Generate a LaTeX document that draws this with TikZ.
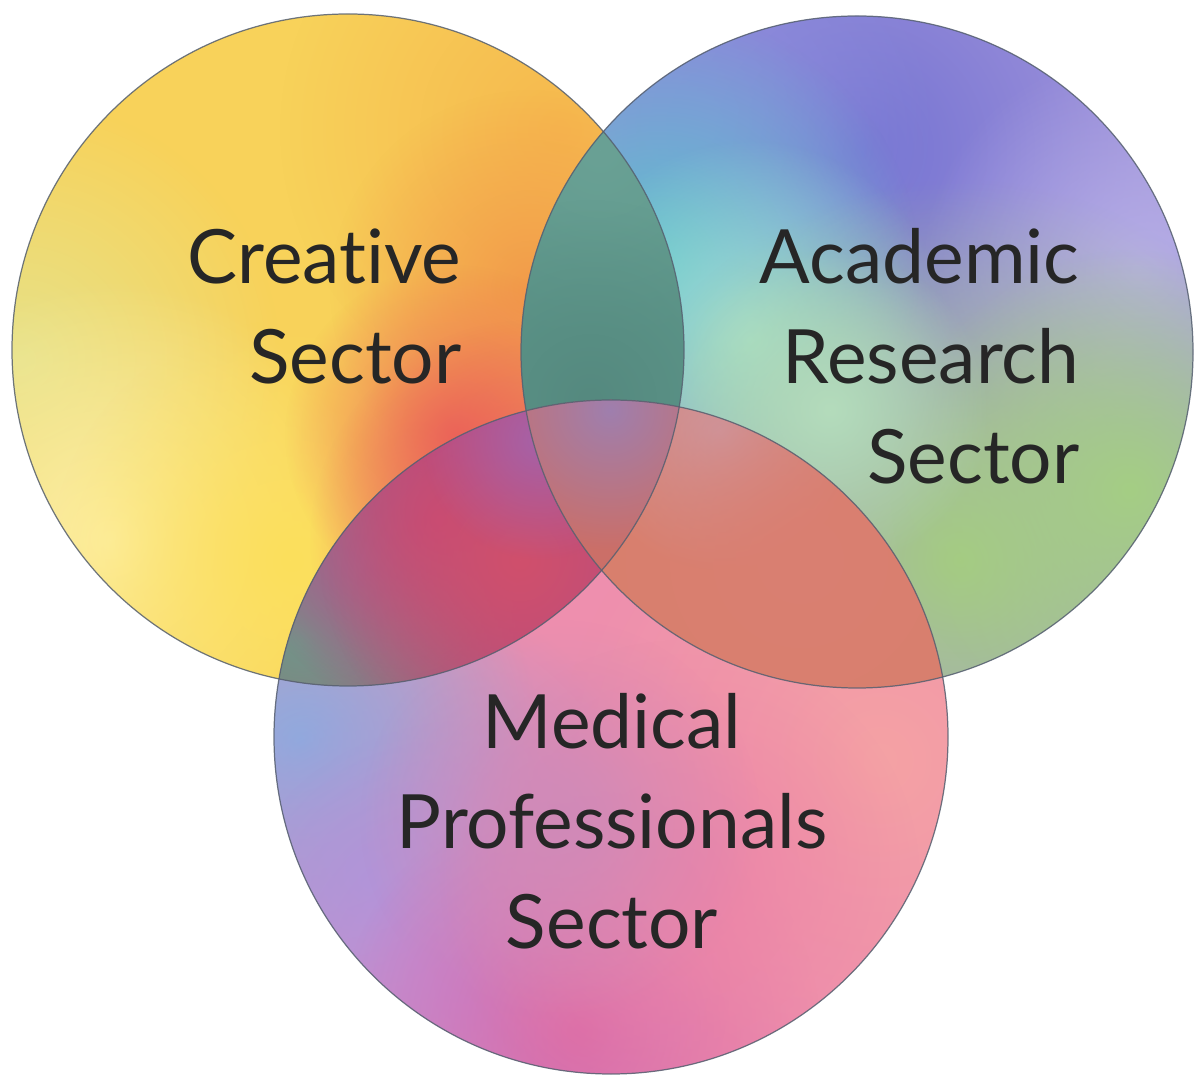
\documentclass[tikz,border=0pt]{standalone}
\usepackage{fontspec}
\setmainfont{Lato}[Ligatures={NoCommon,NoRare}]
\usetikzlibrary{fadings}

\definecolor{inkgray}{HTML}{262626}
\definecolor{rimgray}{HTML}{566070}
% creative
\definecolor{cbase}{HTML}{F8D25A}
\definecolor{clime}{HTML}{E6E28A}
\definecolor{cpale}{HTML}{FDF0A8}
\definecolor{cbright}{HTML}{FCE05C}
\definecolor{camber}{HTML}{F6B84E}
\definecolor{corange}{HTML}{F29A4A}
\definecolor{cred}{HTML}{EE6E55}
\definecolor{cdeep}{HTML}{E8555E}
% academic
\definecolor{abase}{HTML}{A496DC}
\definecolor{aviolet}{HTML}{7473D2}
\definecolor{ablue}{HTML}{8A8DDC}
\definecolor{ateal}{HTML}{5CC4CC}
\definecolor{aaqua}{HTML}{A4E0D2}
\definecolor{alilac}{HTML}{B6AEE6}
\definecolor{agreen}{HTML}{A6CC82}
\definecolor{agreen2}{HTML}{A4CE84}
\definecolor{amint}{HTML}{B4DCBC}
% medical
\definecolor{mbase}{HTML}{EE8FAE}
\definecolor{mblue}{HTML}{7FB6E2}
\definecolor{mperi}{HTML}{A79AD9}
\definecolor{mlav}{HTML}{C08ED8}
\definecolor{mmag}{HTML}{D96AA8}
\definecolor{msalmon}{HTML}{F5A2A4}
\definecolor{mpink}{HTML}{EC84A8}
\definecolor{mmauve}{HTML}{D08AB8}
% overlaps
\definecolor{cabase}{HTML}{5E988B}
\definecolor{catop}{HTML}{6AA195}
\definecolor{calow}{HTML}{55897F}
\definecolor{cmbase}{HTML}{B04E84}
\definecolor{cmgreen}{HTML}{6C9C84}
\definecolor{cmgrey}{HTML}{8C7A9A}
\definecolor{cmmag}{HTML}{C2487A}
\definecolor{cmred}{HTML}{D0506C}
\definecolor{cmpurple}{HTML}{A662A8}
\definecolor{ambase}{HTML}{D8806C}
\definecolor{amtop}{HTML}{C9A0B0}
\definecolor{amsalmon}{HTML}{DA7F72}
\definecolor{allbase}{HTML}{CB6F68}
\definecolor{alltop}{HTML}{9F7FAE}

\tikzfading[name=fuzzy, inner color=transparent!0, outer color=transparent!100]

\begin{document}
\begin{tikzpicture}[x=0.01cm,y=-0.01cm]
\tikzset{
  blob/.style={fill=#1, path fading=fuzzy},
  outline/.style={draw=rimgray, line width=0.35pt, draw opacity=0.85},
  sector/.style={inner sep=0pt, text=inkgray, font=\fontsize{21.3}{28.45}\selectfont}
}
\useasboundingbox (0,0) rectangle (1194,1080);

\coordinate (creative) at (348,350);
\coordinate (academic) at (857,352);
\coordinate (medical) at (611,737);

%creative circle
\begin{scope}
\clip (creative) circle (336);
\fill[cbase] (creative) circle (336);
\fill[blob=clime] (20,360) circle (260);
\fill[blob=cpale] (110,540) circle (260);
\fill[blob=cbright] (290,560) circle (240);
\fill[blob=camber] (560,130) circle (280);
\fill[blob=corange] (530,290) circle (200);
\fill[blob=cred] (455,435) circle (170);
\fill[blob=cdeep] (530,540) circle (220);
\end{scope}

%academic circle
\begin{scope}
\clip (academic) circle (336);
\fill[abase] (academic) circle (336);
\fill[blob=aviolet] (860,150) circle (320);
\fill[blob=ablue] (700,120) circle (240);
\fill[blob=ateal] (660,270) circle (260);
\fill[blob=aaqua] (750,340) circle (200);
\fill[blob=alilac] (1140,270) circle (220);
\fill[blob=agreen] (960,560) circle (380);
\fill[blob=agreen2] (1130,490) circle (240);
\fill[blob=amint] (830,410) circle (160);
\end{scope}

%medical circle
\begin{scope}
\clip (medical) circle (337);
\fill[mbase] (medical) circle (337);
\fill[blob=mblue] (300,740) circle (240);
\fill[blob=mperi] (370,880) circle (300);
\fill[blob=mlav] (470,980) circle (260);
\fill[blob=mmag] (580,1030) circle (240);
\fill[blob=msalmon] (880,760) circle (320);
\fill[blob=mpink] (680,880) circle (240);
\fill[blob=mmauve] (560,820) circle (200);
\end{scope}

%creative and academic
\begin{scope}
\clip (creative) circle (336);
\clip (academic) circle (336);
\fill[cabase] (creative) circle (336);
\fill[blob=catop] (600,150) circle (200);
\fill[blob=calow] (590,400) circle (200);
\end{scope}

%creative and medical
\begin{scope}
\clip (creative) circle (336);
\clip (medical) circle (337);
\fill[cmbase] (medical) circle (337);
\fill[blob=cmgreen] (300,640) circle (220);
\fill[blob=cmgrey] (360,560) circle (140);
\fill[blob=cmmag] (440,520) circle (200);
\fill[blob=cmred] (520,560) circle (200);
\fill[blob=cmpurple] (540,440) circle (120);
\end{scope}

%academic and medical
\begin{scope}
\clip (academic) circle (336);
\clip (medical) circle (337);
\fill[ambase] (academic) circle (336);
\fill[blob=amtop] (720,430) circle (140);
\fill[blob=amsalmon] (800,560) circle (260);
\end{scope}

%all three
\begin{scope}
\clip (creative) circle (336);
\clip (academic) circle (336);
\clip (medical) circle (337);
\fill[allbase] (medical) circle (337);
\fill[blob=alltop] (610,410) circle (140);
\end{scope}

%rims
\draw[outline] (creative) circle (336);
\draw[outline] (academic) circle (336);
\draw[outline] (medical) circle (337);

%labels
\node[sector, align=right, anchor=north east] (creativetxt) at (462,228) {Creative\\Sector};
\node[sector, align=right, anchor=north east] (academictxt) at (1080,228) {Academic\\Research\\Sector};
\node[sector, align=center, anchor=north] (medicaltxt) at (612,693) {Medical\\Professionals\\Sector};
\end{tikzpicture}
\end{document}
